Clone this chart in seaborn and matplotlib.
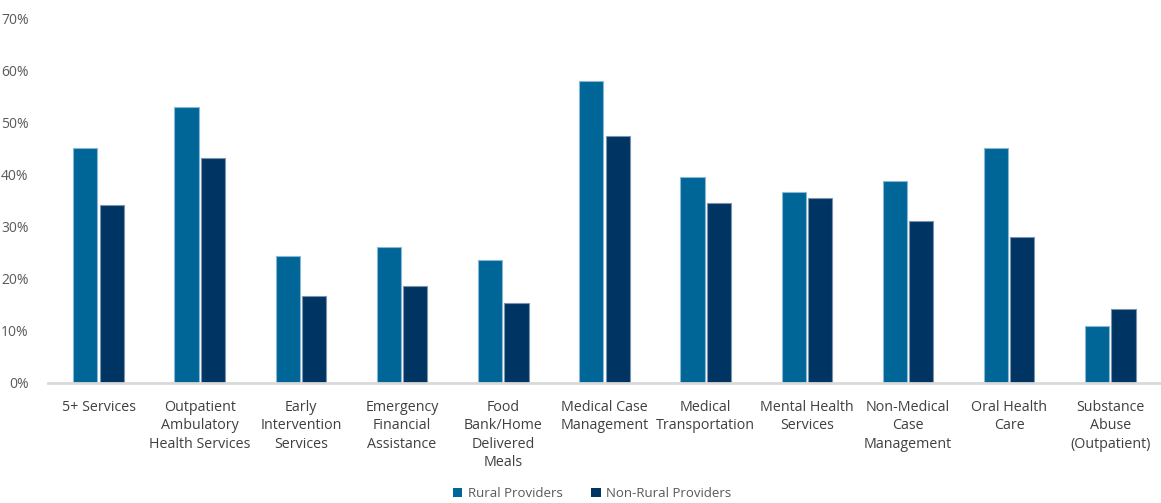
import matplotlib
matplotlib.use("Agg")
import matplotlib.pyplot as plt
import seaborn as sns
import pandas as pd
from matplotlib.ticker import PercentFormatter
from matplotlib.patches import Patch

categories = [
    "5+ Services",
    "Outpatient\nAmbulatory\nHealth Services",
    "Early\nIntervention\nServices",
    "Emergency\nFinancial\nAssistance",
    "Food\nBank/Home\nDelivered\nMeals",
    "Medical Case\nManagement",
    "Medical\nTransportation",
    "Mental Health\nServices",
    "Non-Medical\nCase\nManagement",
    "Oral Health\nCare",
    "Substance\nAbuse\n(Outpatient)",
]
rural = [45.0, 53.0, 24.4, 26.0, 23.5, 58.0, 39.5, 36.7, 38.8, 45.0, 10.9]
non_rural = [34.2, 43.2, 16.6, 18.6, 15.4, 47.3, 34.6, 35.4, 31.0, 28.1, 14.2]
series = ["Rural Providers", "Non-Rural Providers"]
colors = ["#006597", "#003463"]
edge_colors = ["#8ab8d4", "#7d93ad"]

df = pd.DataFrame({
    "category": categories * 2,
    "value": rural + non_rural,
    "series": [series[0]] * len(categories) + [series[1]] * len(categories),
})

sns.set_theme(style="white")
plt.rcParams["font.family"] = ["Open Sans", "DejaVu Sans"]

fig = plt.figure(figsize=(11.61, 5.03), dpi=100)
ax = fig.add_axes([0.0413, 0.2386, 0.9587, 0.7254])

sns.barplot(data=df, x="category", y="value", hue="series", hue_order=series,
            palette=colors, width=0.52, gap=0.08, ax=ax, legend=False,
            saturation=1)

for i, cont in enumerate(ax.containers):
    for bar in cont:
        bar.set_edgecolor(edge_colors[i])
        bar.set_linewidth(0.8)

ax.set_ylim(0, 70)
ax.set_xlim(-0.5, len(categories) - 0.5)
ax.set_yticks(range(0, 71, 10))
ax.yaxis.set_major_formatter(PercentFormatter(decimals=0))
ax.set_xlabel("")
ax.set_ylabel("")
for s in ["top", "right", "left"]:
    ax.spines[s].set_visible(False)
ax.spines["bottom"].set_color("#d9d9d9")
ax.spines["bottom"].set_linewidth(2)
ax.tick_params(axis="y", length=0, labelsize=10, labelcolor="#595959", pad=14)
ax.tick_params(axis="x", length=0, labelsize=10.3, labelcolor="#404040", pad=12)
for lbl in ax.get_xticklabels():
    lbl.set_linespacing(1.32)
for lbl in ax.get_yticklabels():
    lbl.set_horizontalalignment("right")

handles = [Patch(facecolor=c, edgecolor="none") for c in colors]
fig.legend(handles, series, loc="center", bbox_to_anchor=(0.51, 0.018), ncol=2,
           frameon=False, fontsize=9.5, labelcolor="#595959",
           handlelength=0.7, handleheight=0.7, handletextpad=0.4,
           columnspacing=2.2)

fig.savefig("out.png", dpi=100)
